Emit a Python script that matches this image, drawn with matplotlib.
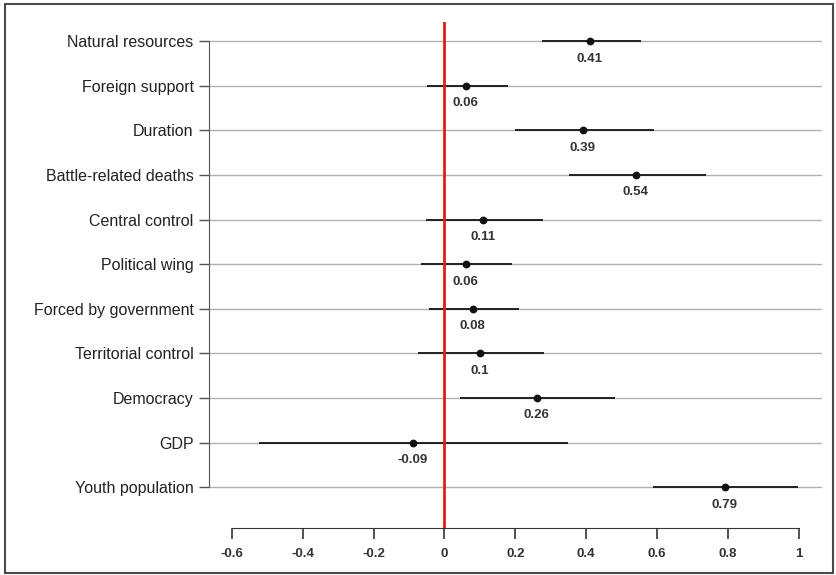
import matplotlib
matplotlib.use('Agg')
import matplotlib.pyplot as plt
from matplotlib.patches import Rectangle

# Coefficients with confidence intervals, top row first
labels = ['Natural resources', 'Foreign support', 'Duration', 'Battle-related deaths',
          'Central control', 'Political wing', 'Forced by government',
          'Territorial control', 'Democracy', 'GDP', 'Youth population']
estimates = [0.41, 0.06, 0.39, 0.54, 0.11, 0.06, 0.08, 0.1, 0.26, -0.09, 0.79]
ci_low = [0.275, -0.05, 0.20, 0.35, -0.053, -0.065, -0.043, -0.074, 0.045, -0.523, 0.587]
ci_high = [0.555, 0.18, 0.59, 0.737, 0.278, 0.191, 0.211, 0.28, 0.48, 0.349, 0.996]
value_text = ['0.41', '0.06', '0.39', '0.54', '0.11', '0.06', '0.08', '0.1', '0.26', '-0.09', '0.79']
xticks = [-0.6, -0.4, -0.2, 0, 0.2, 0.4, 0.6, 0.8, 1]
xtick_labels = ['-0.6', '-0.4', '-0.2', '0', '0.2', '0.4', '0.6', '0.8', '1']

plt.rcParams['font.family'] = ['Liberation Sans', 'DejaVu Sans']

W, H = 837, 575
fig = plt.figure(figsize=(W / 100, H / 100), dpi=100)

# outer frame of the picture
fig.patches.append(Rectangle((5 / W, 2 / H), 828 / W, 569 / H, transform=fig.transFigure,
                             fill=False, edgecolor='#4a4a4a', lw=1.5))

# axes placed in pixel terms
ax = fig.add_axes([209 / W, (H - 527.7) / H, 613 / W, 505.7 / H])
ax.set_xlim(-0.664, 1.065)
ax.set_ylim(10.91, -0.43)

rows = list(range(len(labels)))

ax.hlines(rows, -0.664, 1.065, color='#b0b0b0', lw=1, zorder=1)
ax.hlines(rows, ci_low, ci_high, color='#222222', lw=1.4, zorder=2)
ax.plot(estimates, rows, 'o', color='#111111', ms=4.6, zorder=3)
ax.axvline(0, color='#dc1f1f', lw=2, zorder=4)

for x, y, t in zip(estimates, rows, value_text):
    ax.text(x, y + 0.39, t, ha='center', va='center', fontsize=9.5,
            fontweight='bold', color='#333333')

for s in ['top', 'right']:
    ax.spines[s].set_visible(False)
ax.spines['left'].set_bounds(0, 10)
ax.spines['left'].set_color('#555555')
ax.spines['bottom'].set_bounds(-0.6, 1)
ax.spines['bottom'].set_color('#333333')

ax.set_yticks(rows)
ax.set_yticklabels(labels, fontsize=11.5, color='#222222')
ax.tick_params(axis='y', length=7.5, width=1, color='#555555', pad=3.5)

ax.set_xticks(xticks)
ax.set_xticklabels(xtick_labels, fontsize=9.5, fontweight='bold', color='#333333')
ax.tick_params(axis='x', length=7.7, width=1.2, color='#333333', pad=7)

fig.savefig('out.png', dpi=100)
